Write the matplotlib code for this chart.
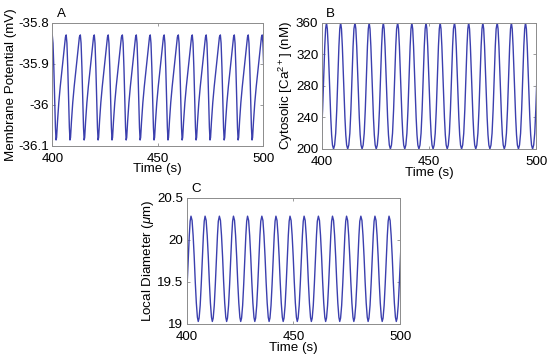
import numpy as np
import matplotlib
matplotlib.use("Agg")
import matplotlib.pyplot as plt

plt.rcParams['font.family'] = ['Liberation Sans', 'DejaVu Sans']
plt.rcParams['mathtext.fontset'] = 'custom'
plt.rcParams['mathtext.rm'] = 'Liberation Sans'
plt.rcParams['mathtext.it'] = 'Liberation Sans:italic'

# one oscillation cycle: (seconds after a peak, value)
vm_phase = [0.00, 0.35, 0.75, 1.15, 1.50, 1.80, 2.05, 2.50, 3.10, 3.80, 4.50, 5.20, 5.80, 6.25]
vm_value = [-35.830, -35.850, -35.910, -35.990, -36.055, -36.086, -36.080,
            -36.040, -35.995, -35.955, -35.920, -35.885, -35.855, -35.835]
vm_peaks = [393.4, 400.0, 406.6, 413.3, 419.9, 426.5, 433.2, 439.8, 446.4,
            453.0, 459.7, 466.3, 472.9, 479.6, 486.2, 492.8, 499.4]

ca_phase = [0.0, 0.4, 0.8, 1.2, 1.6, 2.0, 2.4, 2.8, 3.3, 3.8, 4.3, 4.8, 5.3, 5.8, 6.2]
ca_value = [360, 352, 330, 300, 268, 240, 218, 205, 200, 205, 220, 250, 290, 330, 352]
ca_peaks = [395.6, 402.2, 408.8, 415.5, 422.1, 428.7, 435.4, 442.0, 448.6,
            455.2, 461.9, 468.5, 475.1, 481.8, 488.4, 495.0]

d_phase = [0.0, 0.5, 1.0, 1.5, 2.0, 2.5, 3.0, 3.4, 3.8, 4.3, 4.8, 5.3, 5.8, 6.2]
d_value = [20.28, 20.23, 20.05, 19.80, 19.50, 19.25, 19.08, 19.03, 19.07,
           19.22, 19.47, 19.77, 20.05, 20.22]
d_peaks = [395.4, 402.0, 408.6, 415.3, 421.9, 428.5, 435.2, 441.8, 448.4,
           455.0, 461.7, 468.3, 474.9, 481.6, 488.2, 494.8]

xticks = [400, 450, 500]
vm_ticks = [-36.1, -36.0, -35.9, -35.8]
vm_labels = ['-36.1', '-36', '-35.9', '-35.8']
ca_ticks = [200, 240, 280, 320, 360]
d_ticks = [19, 19.5, 20, 20.5]
d_labels = ['19', '19.5', '20', '20.5']

line_col = '#3b3fae'
box_col = '#8c8c8c'


def trace(peaks, phase, value):
    t = np.concatenate([p + np.array(phase) for p in peaks])
    v = np.tile(value, len(peaks))
    return t, v


fig = plt.figure(figsize=(5.5, 3.59), dpi=100)

panels = [
    ([0.095, 0.594, 0.384, 0.343], vm_peaks, vm_phase, vm_value, (-36.1, -35.8),
     vm_ticks, vm_labels, 'Membrane Potential (mV)', 'A'),
    ([0.585, 0.585, 0.390, 0.352], ca_peaks, ca_phase, ca_value, (200, 360),
     ca_ticks, [str(c) for c in ca_ticks], r'Cytosolic [Ca$^{2+}$] (nM)', 'B'),
    ([0.3395, 0.0975, 0.388, 0.352], d_peaks, d_phase, d_value, (19, 20.5),
     d_ticks, d_labels, r'Local Diameter ($\mu$m)', 'C'),
]

for rect, peaks, phase, value, ylim, yt, ytl, ylab, tag in panels:
    ax = fig.add_axes(rect)
    t, v = trace(peaks, phase, value)
    ax.plot(t, v, color=line_col, lw=1.0)
    ax.set_xlim(400, 500)
    ax.set_ylim(*ylim)
    ax.set_xticks(xticks)
    ax.set_yticks(yt)
    ax.set_yticklabels(ytl)
    ax.tick_params(direction='in', length=2.5, width=0.6, color=box_col,
                   labelsize=9.6, top=True, right=True)
    ax.tick_params(axis='x', pad=5)
    ax.tick_params(axis='y', pad=2.5)
    for s in ax.spines.values():
        s.set_color(box_col)
        s.set_linewidth(0.7)
    ax.set_xlabel('Time (s)', fontsize=9.6, labelpad=-1)
    ax.set_ylabel(ylab, fontsize=9.6, labelpad=1)
    ax.text(0.02, 1.02, tag, transform=ax.transAxes, fontsize=9.6,
            ha='left', va='bottom')

fig.savefig('out.png', dpi=100)
